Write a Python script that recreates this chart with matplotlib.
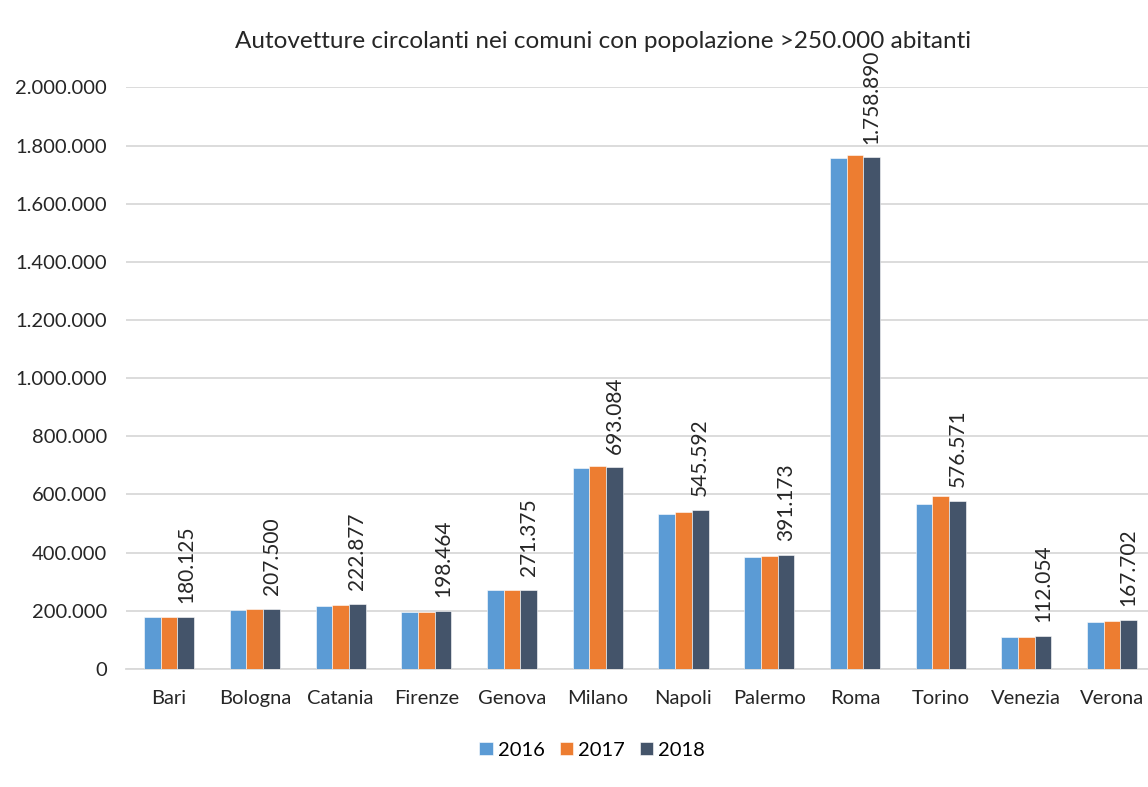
import matplotlib
matplotlib.use("Agg")
import matplotlib.pyplot as plt
import numpy as np
from matplotlib.ticker import FuncFormatter

# data
cities = ["Bari", "Bologna", "Catania", "Firenze", "Genova", "Milano",
          "Napoli", "Palermo", "Roma", "Torino", "Venezia", "Verona"]
years = ["2016", "2017", "2018"]
cars_2016 = [177000, 202000, 215000, 197000, 270000, 690800,
             533400, 385000, 1757000, 566000, 109400, 162000]
cars_2017 = [179000, 206500, 219600, 197000, 271000, 699600,
             540000, 388000, 1766000, 595700, 109400, 165000]
cars_2018 = [180125, 207500, 222877, 198464, 271375, 693084,
             545592, 391173, 1758890, 576571, 112054, 167702]
y_ticks = [0, 200000, 400000, 600000, 800000, 1000000,
           1200000, 1400000, 1600000, 1800000, 2000000]

colors = ["#5B9BD5", "#ED7D31", "#44546A"]
plt.rcParams["font.family"] = ["Lato", "DejaVu Sans"]


def it_fmt(v):
    return f"{int(v):,}".replace(",", ".")


fig = plt.figure(figsize=(11.48, 7.87), dpi=100)
ax = fig.add_axes([0.110, 0.150, 0.896, 0.739])

x = np.arange(len(cities))
w = 0.195
series = [cars_2016, cars_2017, cars_2018]
for k, (vals, col, yr) in enumerate(zip(series, colors, years)):
    ax.bar(x + (k - 1) * w, vals, width=w, color=col, label=yr,
           edgecolor="white", linewidth=0.4, zorder=3)

# labels on the 2018 bars
for xi, v in zip(x, cars_2018):
    ax.annotate(it_fmt(v), (xi + w, v), xytext=(0, 10), textcoords="offset points",
                rotation=90, ha="center", va="bottom", fontsize=15,
                color="#262626", annotation_clip=False)

ax.set_xlim(-0.5, len(cities) - 0.5)
ax.set_ylim(0, 2000000)
ax.set_yticks(y_ticks)
ax.yaxis.set_major_formatter(FuncFormatter(lambda v, p: it_fmt(v)))
ax.set_xticks(x)
ax.set_xticklabels(cities)
ax.tick_params(axis="both", length=0, labelsize=14.5, labelcolor="#262626")
ax.tick_params(axis="x", pad=15)
ax.tick_params(axis="y", pad=14)
ax.grid(axis="y", color="#D9D9D9", linewidth=1.3, zorder=0)
for s in ["top", "right", "left"]:
    ax.spines[s].set_visible(False)
ax.spines["bottom"].set_color("#D9D9D9")
ax.spines["bottom"].set_linewidth(1.3)

fig.text(0.525, 1 - 42 / 787, "Autovetture circolanti nei comuni con popolazione >250.000 abitanti",
         ha="center", va="center", fontsize=17.5, color="#262626")

fig.legend(loc="center", bbox_to_anchor=(592 / 1148, 1 - 750 / 787), ncol=3,
           frameon=False, fontsize=14.5, handlelength=0.65, handleheight=0.65,
           handletextpad=0.25, columnspacing=0.75)

fig.savefig("out.png", dpi=100)
